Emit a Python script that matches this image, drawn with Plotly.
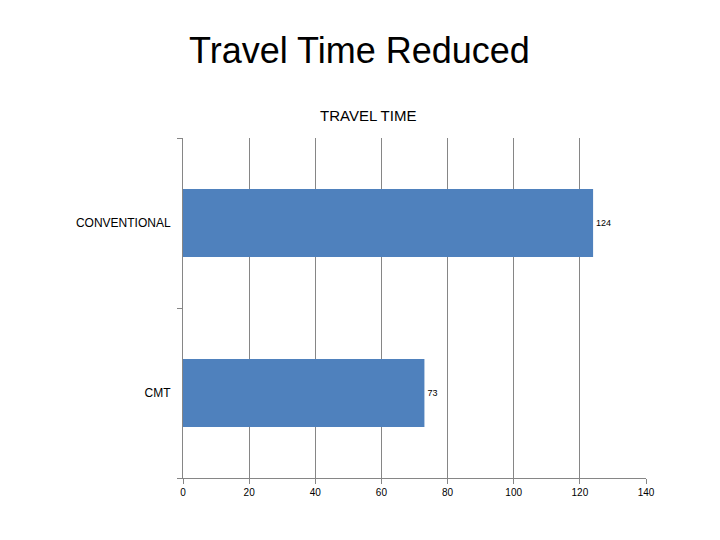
import plotly.graph_objects as go

## data
categories = ["CMT", "CONVENTIONAL"]
travel_time = [73, 124]
x_ticks = [0, 20, 40, 60, 80, 100, 120, 140]

## the page body has an 8px margin, so target positions are shifted back by it
OFF = 8
L, R, T, B = 183 - OFF, 74 + OFF, 138 - OFF, 62 + OFF
plot_w = 720 - L - R
plot_h = 540 - T - B

def px_x(x):
    return (x - OFF - L) / plot_w

def px_y(y):
    return (540 - B - (y - OFF)) / plot_h

fig = go.Figure(go.Bar(
    x=travel_time, y=categories, orientation="h",
    marker_color="#4F81BD", marker_line_width=0,
    text=travel_time, textposition="outside",
    textfont=dict(size=9, color="#000000"),
    cliponaxis=False, width=0.4))

fig.update_layout(
    width=720, height=540,
    margin=dict(l=L, r=R, t=T, b=B),
    paper_bgcolor="white", plot_bgcolor="white",
    font=dict(family="Liberation Sans, Arial, sans-serif", color="#000000"),
    showlegend=False,
    annotations=[
        dict(text="Travel Time Reduced", x=px_x(359), y=px_y(50),
             xref="paper", yref="paper", xanchor="center", yanchor="middle",
             showarrow=False, font=dict(size=36)),
        dict(text="TRAVEL TIME", x=px_x(368), y=px_y(115),
             xref="paper", yref="paper", xanchor="center", yanchor="middle",
             showarrow=False, font=dict(size=15)),
    ],
)

fig.update_xaxes(
    range=[0, 140], tickvals=x_ticks, ticks="outside", ticklen=5,
    tickcolor="#868686", showline=True, linecolor="#868686",
    showgrid=True, gridcolor="#868686", gridwidth=1,
    tickfont=dict(size=10), zeroline=False)
fig.update_yaxes(
    categoryorder="array", categoryarray=categories,
    tickson="boundaries", ticks="outside", ticklen=5, tickcolor="#868686",
    showline=True, linecolor="#868686", showgrid=False,
    tickfont=dict(size=12), ticklabelstandoff=9)

fig.write_html("out.html")
